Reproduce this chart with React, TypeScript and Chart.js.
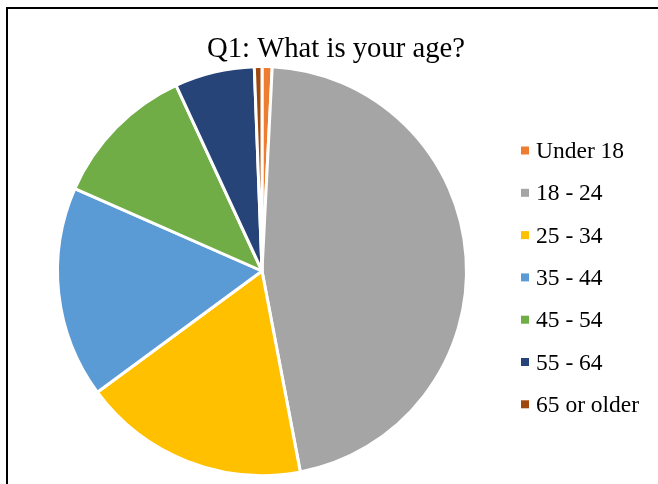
import React, { useEffect, useRef } from "react";
import { Chart, registerables } from "chart.js";

Chart.register(...registerables);

const titleText = "Q1: What is your age?";
const categories = ["Under 18", "18 - 24", "25 - 34", "35 - 44", "45 - 54", "55 - 64", "65 or older"];
const percentValues = [0.8, 46.2, 17.9, 16.7, 11.5, 6.3, 0.6];
const sliceColors = ["#ED7D31", "#A5A5A5", "#FFC000", "#5B9BD5", "#70AD47", "#264478", "#9E480E"];

const FONT = "'Liberation Serif', 'Times New Roman', serif";

const framePlugin = {
  id: "framePlugin",
  beforeDraw(chart: any) {
    const ctx = chart.ctx;
    ctx.save();
    ctx.fillStyle = "#ffffff";
    ctx.fillRect(0, 0, chart.width, chart.height);
    ctx.fillStyle = "#000000";
    ctx.fillRect(6, 7, 2, chart.height - 7);
    ctx.fillRect(6, 7, chart.width - 6, 2);
    ctx.restore();
  },
  afterDraw(chart: any) {
    const ctx = chart.ctx;
    ctx.save();
    // title
    ctx.fillStyle = "#000000";
    ctx.font = `28.7px ${FONT}`;
    ctx.textAlign = "center";
    ctx.textBaseline = "alphabetic";
    ctx.fillText(titleText, 336, 56.5);
    // legend
    const labels: string[] = chart.data.labels;
    const colors: string[] = chart.data.datasets[0].backgroundColor;
    ctx.font = `23.5px ${FONT}`;
    ctx.textAlign = "left";
    labels.forEach((lab, i) => {
      const cy = 150.5 + i * 42.3;
      ctx.fillStyle = colors[i];
      ctx.fillRect(521, cy - 4, 8, 8);
      ctx.fillStyle = "#000000";
      ctx.fillText(lab, 536, cy + 7.5);
    });
    ctx.restore();
  },
};

export default function App() {
  const ref = useRef<HTMLCanvasElement>(null);
  useEffect(() => {
    if (!ref.current) return;
    const chart = new Chart(ref.current, {
      type: "pie",
      data: {
        labels: categories,
        datasets: [
          {
            data: percentValues,
            backgroundColor: sliceColors,
            borderColor: "#ffffff",
            borderWidth: 3,
          },
        ],
      },
      options: {
        responsive: false,
        animation: false,
        devicePixelRatio: 1,
        layout: { padding: { left: 56, top: 65, right: 190, bottom: 7 } },
        plugins: {
          legend: { display: false },
          title: { display: false },
          tooltip: { enabled: false },
        },
      },
      plugins: [framePlugin],
    });
    return () => chart.destroy();
  }, []);
  return (
    <div style={{ position: "fixed", left: 0, top: 0, width: 658, height: 484, overflow: "hidden", background: "#fff" }}>
      <canvas ref={ref} width={658} height={484} style={{ display: "block", width: 658, height: 484 }} />
    </div>
  );
}
